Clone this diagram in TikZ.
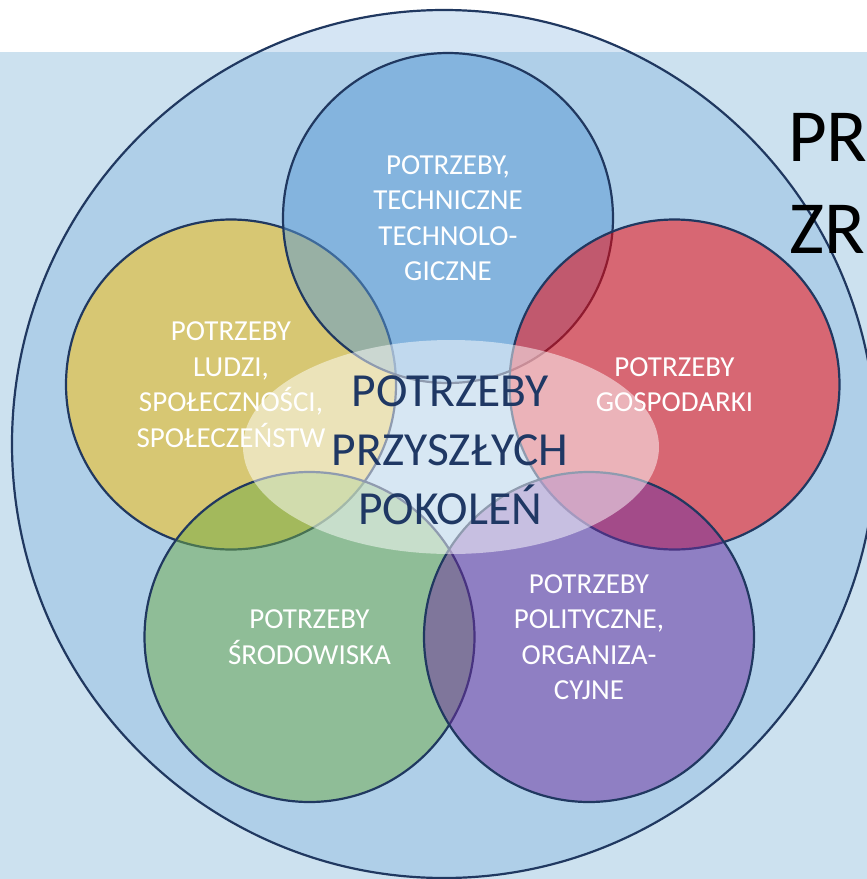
\documentclass[tikz,border=0pt]{standalone}
\usepackage{fontspec}
\setmainfont{Carlito}
\usetikzlibrary{shapes.geometric}
\definecolor{bgblue}{RGB}{204,225,239}
\definecolor{navy}{RGB}{32,56,96}
\definecolor{offblue}{RGB}{91,155,213}
\definecolor{offgold}{RGB}{255,192,0}
\definecolor{offred}{RGB}{255,0,0}
\definecolor{offgreen}{RGB}{112,173,71}
\definecolor{offpurple}{RGB}{112,48,160}
\definecolor{coretext}{RGB}{31,56,100}
\begin{document}
\begin{tikzpicture}[x=1pt,y=-1pt,
  venn/.style={circle, draw=navy, line width=2.2pt, fill opacity=0.5, minimum size=330pt, inner sep=0pt},
  lbl/.style={text=white, align=center, inner sep=0pt, font=\fontsize{29}{35.5}\selectfont},
  coretxt/.style={text=coretext, align=center, inner sep=0pt, font=\fontsize{47.5}{59}\selectfont},
  bigtxt/.style={text=black, anchor=base west, inner sep=0pt, font=\fontsize{75}{91}\selectfont}
]
\useasboundingbox (0,0) rectangle (867,879);
\clip (0,0) rectangle (867,879);
\fill[white] (0,0) rectangle (867,52);
\fill[bgblue] (0,52) rectangle (867,879);
\node[draw=navy, line width=2.2pt, fill=offblue, fill opacity=0.25, ellipse, minimum width=864pt, minimum height=868pt, inner sep=0pt] (outer) at (444,444) {};
% five circles
\node[venn, fill=offgold] (yellow) at (231,384.5) {};
\node[venn, fill=offblue] (blue) at (448,218) {};
\node[venn, fill=offred] (red) at (674.5,384.5) {};
\node[venn, fill=offgreen] (green) at (309.5,637) {};
\node[venn, fill=offpurple] (purple) at (589,637) {};
% core ellipse
\node[fill=white, fill opacity=0.5, ellipse, minimum width=416pt, minimum height=214pt, inner sep=0pt] (core) at (451,447) {};
% labels
\node[lbl] (tyellow) at (yellow.center) {POTRZEBY\\LUDZI,\\SPOŁECZNOŚCI,\\SPOŁECZEŃSTW};
\node[lbl] (tblue) at (blue.center) {POTRZEBY,\\TECHNICZNE\\TECHNOLO-\\GICZNE};
\node[lbl] (tred) at (red.center) {POTRZEBY\\GOSPODARKI};
\node[lbl] (tgreen) at (green.center) {POTRZEBY\\ŚRODOWISKA};
\node[lbl] (tpurple) at (purple.center) {POTRZEBY\\POLITYCZNE,\\ORGANIZA-\\CYJNE};
\node[coretxt] (tcore) at (450,450) {POTRZEBY\\PRZYSZŁYCH\\POKOLEŃ};
\node[bigtxt] (pr) at (788,161.7) {PR};
\node[bigtxt] (zr) at (789,253) {ZR};
\end{tikzpicture}
\end{document}
